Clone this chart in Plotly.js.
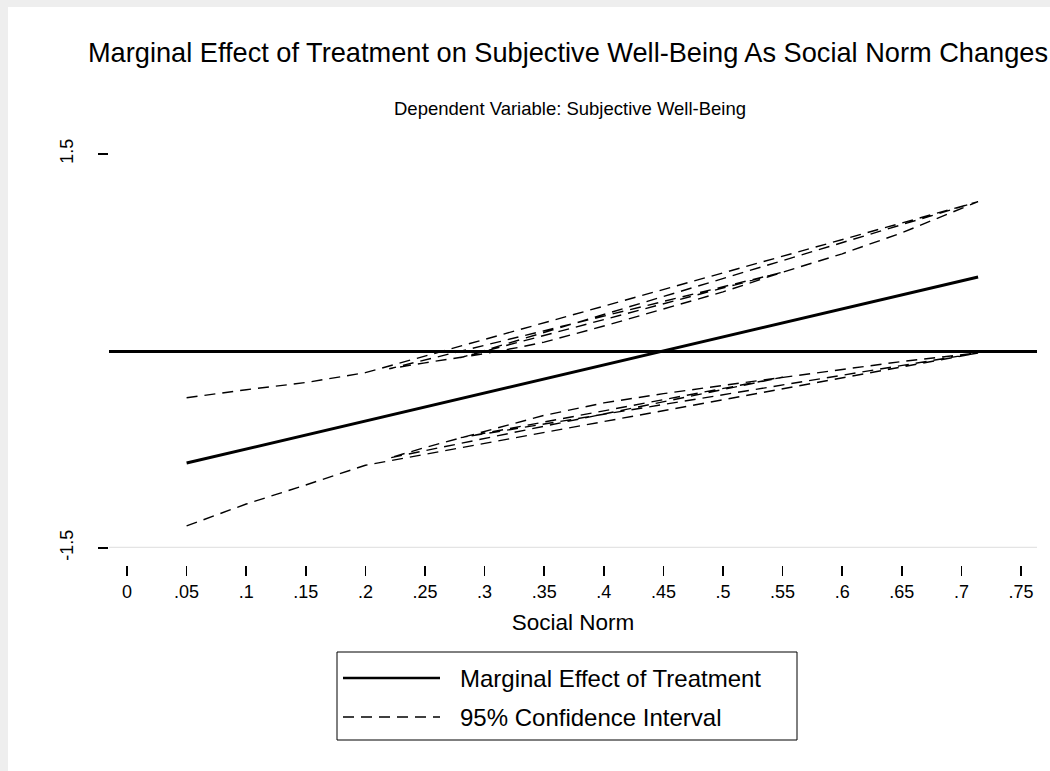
<!DOCTYPE html>
<html>
<head>
<meta charset="utf-8">
<script src="https://cdn.plot.ly/plotly-3.0.1.min.js"></script>
<style>html,body{margin:0;padding:0;background:#fff;}#chart{width:1050px;height:771px;}</style>
</head>
<body>
<div id="chart"></div>
<script>
// ---- data ----
const normX = [0.05, 0.714];
const marginalEffect = [-0.853, 0.564];

// CI points in the (unsorted) order the source data connects them
const ciX     = [0.05, 0.10, 0.15, 0.20, 0.714, 0.28, 0.55, 0.22, 0.25, 0.28, 0.30, 0.33, 0.35, 0.40, 0.45, 0.50, 0.55, 0.60, 0.65, 0.714];
const ciUpper = [-0.356, -0.295, -0.240, -0.165, 1.137, -0.050, 0.600, -0.135, -0.090, -0.050, -0.020, 0.030, 0.068, 0.190, 0.320, 0.450, 0.600, 0.740, 0.900, 1.137];
const ciLower = [-1.332, -1.165, -1.020, -0.870, -0.015, -0.660, -0.200, -0.815, -0.735, -0.660, -0.612, -0.540, -0.490, -0.395, -0.325, -0.262, -0.200, -0.140, -0.080, -0.015];

const xTickVals = [0, 0.05, 0.1, 0.15, 0.2, 0.25, 0.3, 0.35, 0.4, 0.45, 0.5, 0.55, 0.6, 0.65, 0.7, 0.75];
const xTickText = ['0', '.05', '.1', '.15', '.2', '.25', '.3', '.35', '.4', '.45', '.5', '.55', '.6', '.65', '.7', '.75'];
const yTickVals = [-1.5, 1.5];
const yTickText = ['-1.5', '1.5'];

const legendLabels = ['Marginal Effect of Treatment', '95% Confidence Interval'];

// ---- layout geometry (pixels) ----
const W = 1050, H = 771;
const L = 109, R = 1037, T = 141, B = 565;
const pw = R - L, ph = B - T;
const px = x => (x - L) / pw;       // pixel -> paper x
const py = y => (B - y) / ph;       // pixel -> paper y

const FONT = 'Liberation Sans, Arial, Helvetica, sans-serif';
const dashCI = '11px,7px';

const traces = [
  {x: ciX, y: ciUpper, mode: 'lines', name: legendLabels[1], showlegend: false,
   line: {color: '#000', width: 1.4, dash: dashCI}, hoverinfo: 'skip'},
  {x: ciX, y: ciLower, mode: 'lines', name: legendLabels[1], showlegend: false,
   line: {color: '#000', width: 1.4, dash: dashCI}, hoverinfo: 'skip'},
  {x: normX, y: marginalEffect, mode: 'lines', name: legendLabels[0], showlegend: false,
   line: {color: '#000', width: 3}}
];

const shapes = [
  // light outer frame (top and left)
  {type: 'rect', xref: 'paper', yref: 'paper', x0: px(0), x1: px(W), y0: py(7), y1: py(0),
   fillcolor: '#eeeeee', line: {width: 0}, layer: 'below'},
  {type: 'rect', xref: 'paper', yref: 'paper', x0: px(0), x1: px(8), y0: py(H), y1: py(0),
   fillcolor: '#eeeeee', line: {width: 0}, layer: 'below'},
  // plot region bottom border
  {type: 'line', xref: 'paper', yref: 'y', x0: 0, x1: 1, y0: -1.5, y1: -1.5,
   line: {color: '#e4e4e4', width: 2.5}, layer: 'below'},
  // legend box
  {type: 'rect', xref: 'paper', yref: 'paper', x0: px(337), x1: px(797), y0: py(740), y1: py(652),
   fillcolor: '#fff', line: {color: '#000', width: 1}},
  {type: 'line', xref: 'paper', yref: 'paper', x0: px(343), x1: px(440), y0: py(678), y1: py(678),
   line: {color: '#000', width: 2.5}},
  {type: 'line', xref: 'paper', yref: 'paper', x0: px(343), x1: px(440), y0: py(717), y1: py(717),
   line: {color: '#000', width: 1.3, dash: dashCI}}
];

const annotations = [
  {text: 'Dependent Variable: Subjective Well-Being', xref: 'paper', yref: 'paper',
   x: px(570), y: py(108), xanchor: 'center', yanchor: 'middle', showarrow: false,
   font: {family: FONT, size: 18.5, color: '#000'}},
  {text: legendLabels[0], xref: 'paper', yref: 'paper', x: px(458), y: py(678),
   xanchor: 'left', yanchor: 'middle', showarrow: false, font: {family: FONT, size: 24, color: '#000'}},
  {text: legendLabels[1], xref: 'paper', yref: 'paper', x: px(458), y: py(717),
   xanchor: 'left', yanchor: 'middle', showarrow: false, font: {family: FONT, size: 24, color: '#000'}}
];

const layout = {
  width: W, height: H,
  margin: {l: L, r: W - R, t: T, b: H - B, pad: 0},
  paper_bgcolor: '#fff', plot_bgcolor: '#fff',
  font: {family: FONT, color: '#000'},
  showlegend: false,
  title: {text: 'Marginal Effect of Treatment on Subjective Well-Being As Social Norm Changes',
          xref: 'container', yref: 'container', x: 568 / W, y: 1 - 52 / H,
          xanchor: 'center', yanchor: 'middle', font: {family: FONT, size: 27.2, color: '#000'}},
  xaxis: {
    range: [(L - 127) / 1192, (R - 127) / 1192],
    anchor: 'free', position: 0,
    showgrid: false, zeroline: false, showline: false,
    tickmode: 'array', tickvals: xTickVals, ticktext: xTickText,
    ticks: 'outside', ticklen: 10, tickwidth: 1.5, tickcolor: '#000',
    ticklabelstandoff: 0,
    tickfont: {family: FONT, size: 18, color: '#000'},
    title: {text: 'Social Norm', font: {family: FONT, size: 22.5, color: '#000'}, standoff: 13}
  },
  yaxis: {
    domain: [(B - 548) / ph, 1],
    range: [-1.5, 1.5 + 13 / 131.33],
    showgrid: false, showline: false,
    zeroline: true, zerolinecolor: '#000', zerolinewidth: 3,
    tickmode: 'array', tickvals: yTickVals, ticktext: yTickText,
    ticks: 'outside', ticklen: 10, tickwidth: 1.5, tickcolor: '#000',
    tickangle: -90, ticklabelstandoff: 18,
    tickfont: {family: FONT, size: 18, color: '#000'}
  },
  shapes: shapes,
  annotations: annotations
};

Plotly.newPlot('chart', traces, layout, {displayModeBar: false, staticPlot: true});
</script>
</body>
</html>
